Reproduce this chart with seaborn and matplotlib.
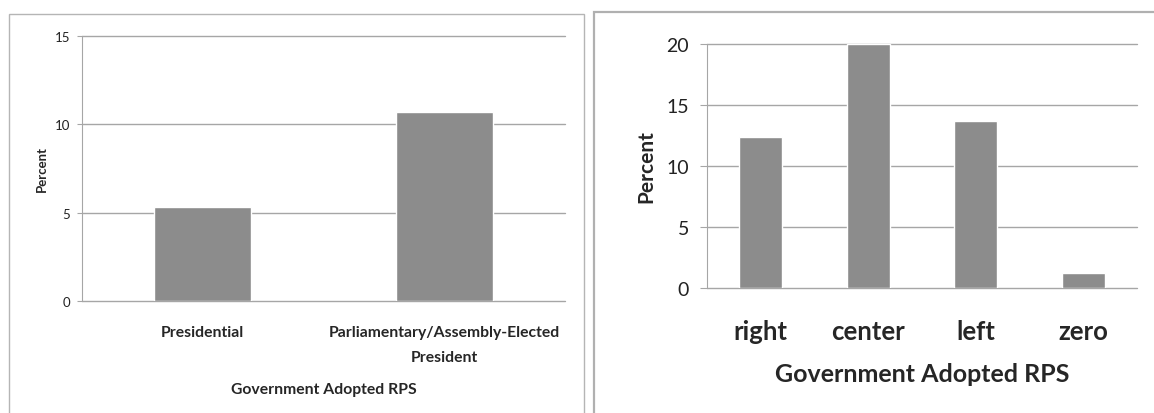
import pandas as pd
import matplotlib
matplotlib.use('Agg')
import matplotlib.pyplot as plt
import seaborn as sns
from matplotlib.patches import Rectangle

# data
system_labels = ['Presidential', 'Parliamentary/Assembly-Elected\nPresident']
system_pct = [5.3, 10.7]

ideology_labels = ['right', 'center', 'left', 'zero']
ideology_pct = [12.4, 20.0, 13.7, 1.2]

sns.set_style('white')
plt.rcParams['font.family'] = ['Lato', 'DejaVu Sans']

bar_color = '#8c8c8c'
grid_color = '#a6a6a6'
W, H = 1154, 414

fig = plt.figure(figsize=(W / 100, H / 100), dpi=100)

# panel frames
fig.patches.append(Rectangle((9 / W, -0.01), 575 / W, (H - 15) / H + 0.01,
                             transform=fig.transFigure, fill=False,
                             edgecolor='#b5b5b5', linewidth=1.0))
fig.patches.append(Rectangle((594 / W, -0.01), 570 / W, (H - 13) / H + 0.01,
                             transform=fig.transFigure, fill=False,
                             edgecolor='#b0b0b0', linewidth=1.6))


def style_axes(ax, ymax, step, tick_size, tick_len, pad):
    ax.set_ylim(0, ymax)
    ax.set_yticks(range(0, ymax + 1, step))
    ax.yaxis.grid(True, color=grid_color, linewidth=1.0)
    for line in ax.get_ygridlines():
        line.set_clip_on(False)
    ax.set_axisbelow(True)
    for s in ['top', 'right', 'bottom']:
        ax.spines[s].set_visible(False)
    ax.spines['left'].set_color(grid_color)
    ax.tick_params(axis='y', length=tick_len, color=grid_color, labelsize=tick_size,
                   left=True, pad=pad, labelcolor='#222222')
    ax.tick_params(axis='x', length=0)


# left panel
ax1 = fig.add_axes([82 / W, (H - 302) / H, 483 / W, 265 / H])
df1 = pd.DataFrame({'system': system_labels, 'pct': system_pct})
sns.barplot(data=df1, x='system', y='pct', color=bar_color, width=0.4,
            saturation=1, ax=ax1)
style_axes(ax1, 15, 5, 9.5, 3.6, 5)
ax1.set_xticks(range(len(system_labels)))
ax1.set_xticklabels(system_labels, fontsize=11.3, fontweight='bold', linespacing=2.0)
ax1.tick_params(axis='x', pad=17)
ax1.set_xlabel('Government Adopted RPS', fontsize=11.3, fontweight='bold', labelpad=13)
ax1.set_ylabel('Percent', fontsize=9.5, fontweight='bold', labelpad=5)

# right panel
ax2 = fig.add_axes([707 / W, (H - 289) / H, 430 / W, 244 / H])
df2 = pd.DataFrame({'ideology': ideology_labels, 'pct': ideology_pct})
sns.barplot(data=df2, x='ideology', y='pct', color=bar_color, width=0.4,
            saturation=1, ax=ax2)
style_axes(ax2, 20, 5, 14, 5, 8)
ax2.set_xticks(range(len(ideology_labels)))
ax2.set_xticklabels(ideology_labels, fontsize=18.5, fontweight='bold')
ax2.tick_params(axis='x', pad=22)
ax2.set_xlabel('Government Adopted RPS', fontsize=18, fontweight='bold', labelpad=14)
ax2.set_ylabel('Percent', fontsize=15, fontweight='bold', labelpad=7)

fig.savefig('out.png', dpi=100)
